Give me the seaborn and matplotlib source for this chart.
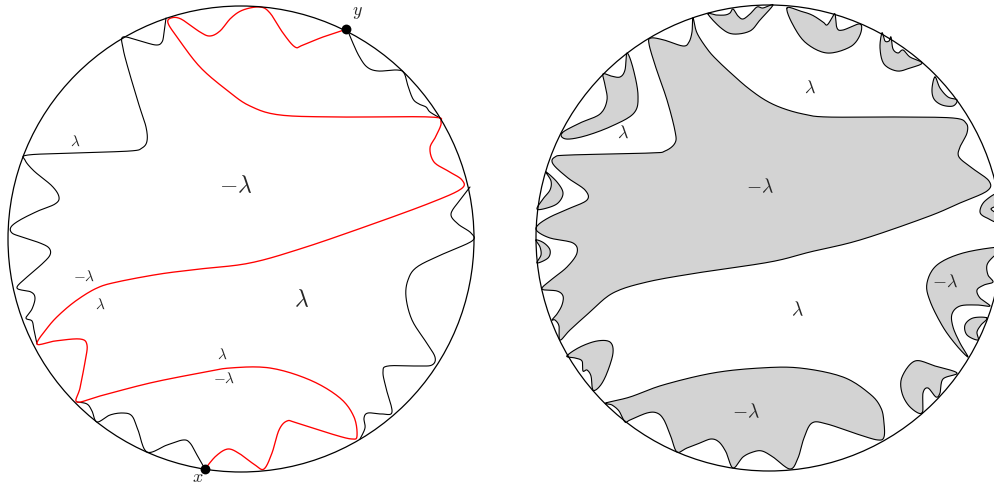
import numpy as np
import matplotlib
matplotlib.use("Agg")
import matplotlib.pyplot as plt
import seaborn as sns

# ------------------------------------------------------------------
# traced shapes (pixel coordinates of the reference, y grows downward)
# ------------------------------------------------------------------
left_center = (241, 239)
right_center = (769, 238)
disc_radius = 233

# left disc: red interface from y to x
left_red = [(347, 29), (323, 37), (303, 45), (295, 47), (283, 33), (270, 13), (260, 7), (243, 10),
            (231, 18), (220, 31), (210, 36), (200, 32), (181, 19), (171, 18), (168, 23), (177, 37),
            (200, 67), (228, 91), (250, 106), (280, 115), (340, 117), (430, 117), (441, 122),
            (436, 136), (430, 148), (434, 162), (448, 171), (462, 180), (461, 189), (430, 203),
            (370, 225), (303, 248), (250, 263), (200, 269), (160, 274), (117, 282), (97, 288),
            (77, 300), (60, 314), (48, 327), (37, 344), (55, 341), (80, 339), (87, 345), (85, 362),
            (80, 388), (77, 402), (100, 396), (150, 383), (200, 373), (230, 368), (270, 368),
            (310, 380), (340, 398), (354, 417), (357, 436), (352, 439), (335, 435), (297, 423),
            (287, 421), (279, 430), (272, 453), (264, 469), (255, 465), (240, 454), (228, 449),
            (216, 456), (205, 469)]

# left disc: black interfaces
left_black_1 = [(166, 18), (164, 33), (162, 42), (156, 45), (140, 41), (123, 37), (123, 48),
                (128, 68), (139, 105), (146, 127), (147, 141), (142, 148), (130, 151), (75, 153),
                (28, 155), (25, 160), (34, 171), (52, 186), (59, 197), (55, 204), (38, 211),
                (20, 220), (11, 227), (12, 233), (22, 237), (40, 243), (49, 248), (50, 255),
                (42, 264), (27, 277), (17, 288), (31, 292), (35, 298), (32, 309), (26, 318),
                (32, 321), (34, 330), (37, 344)]
left_black_2 = [(77, 402), (87, 404), (92, 411), (97, 422), (110, 415), (123, 413), (132, 416),
                (138, 430), (147, 452), (167, 445), (183, 440), (190, 443), (197, 455), (205, 469)]
left_black_3 = [(347, 29), (352, 41), (359, 56), (367, 67), (378, 71), (397, 70), (404, 73),
                (408, 86), (413, 99), (419, 104), (426, 107), (430, 112), (440, 118)]
left_black_4 = [(470, 187), (460, 200), (451, 214), (458, 224), (471, 233), (472, 241), (443, 254),
                (417, 267), (408, 280), (406, 297), (412, 320), (426, 342), (435, 357), (432, 365),
                (418, 366), (388, 366), (383, 372), (386, 388), (392, 412), (382, 414), (368, 413),
                (364, 418), (365, 428), (360, 439)]

# right disc: grey regions (closed outlines)
right_main = [(693, 18), (697, 33), (708, 50), (718, 61), (733, 75), (748, 88), (765, 100),
              (782, 108), (803, 114), (827, 117), (900, 117), (953, 118), (966, 123), (967, 133),
              (960, 147), (959, 157), (972, 168), (989, 181), (987, 191), (960, 203), (927, 217),
              (860, 240), (810, 252), (770, 262), (697, 273), (647, 282), (613, 293), (590, 312),
              (570, 330), (560, 340), (559, 326), (555, 320), (552, 320), (557, 314), (562, 305),
              (563, 296), (557, 291), (542, 289), (551, 280), (567, 267), (577, 253), (573, 243),
              (550, 238), (537, 231), (538, 225), (550, 217), (568, 209), (587, 200), (585, 190),
              (568, 178), (553, 164), (555, 157), (570, 155), (650, 153), (665, 151), (675, 143),
              (675, 131), (667, 100), (656, 68), (649, 44), (651, 38), (664, 40), (683, 46),
              (689, 42), (692, 32)]
right_bottom = [(606, 403), (630, 397), (663, 385), (713, 373), (760, 368), (800, 368), (843, 377),
                (870, 394), (881, 408), (884, 423), (884, 437), (878, 440), (860, 435), (827, 424),
                (812, 423), (804, 438), (798, 458), (790, 469), (773, 457), (762, 451), (753, 452),
                (743, 457), (733, 468), (726, 452), (719, 442), (711, 439), (700, 443), (687, 448),
                (677, 452), (671, 437), (664, 420), (657, 413), (647, 413), (630, 420), (625, 422),
                (619, 411), (612, 405)]
right_top_a = [(562, 133), (580, 123), (600, 114), (607, 100), (605, 85), (603, 74), (611, 76),
               (620, 77), (625, 70), (627, 53), (633, 68), (638, 95), (634, 113), (612, 126),
               (585, 136), (566, 139)]
right_top_b = [(708, 14), (716, 15), (725, 15), (730, 13), (733, 9), (738, 16), (743, 19), (750, 14),
               (757, 7), (763, 8), (773, 5), (760, 20), (750, 31), (733, 34), (721, 28)]
right_top_c = [(787, 8), (800, 11), (812, 15), (823, 22), (827, 25), (832, 18), (835, 14), (837, 28),
               (843, 30), (860, 24), (860, 35), (850, 47), (827, 53), (806, 43), (793, 25)]
right_top_d = [(882, 33), (885, 41), (889, 41), (891, 37), (893, 49), (898, 53), (903, 50), (910, 57),
               (922, 63), (910, 68), (897, 71), (884, 64), (880, 48)]
right_top_e = [(935, 77), (940, 88), (948, 97), (957, 100), (953, 106), (942, 105), (934, 99), (932, 89)]
right_side_a = [(1000, 194), (985, 201), (980, 212), (987, 218), (1000, 221)]
right_side_hole = [(1000, 206), (991, 209), (1000, 214)]
right_side_b = [(1000, 247), (963, 253), (937, 265), (927, 283), (930, 301), (943, 327), (957, 346),
                (968, 357), (960, 343), (953, 327), (952, 314), (960, 306), (977, 305), (990, 306),
                (980, 298), (977, 290), (984, 285), (993, 282), (988, 275), (987, 265), (993, 257),
                (1000, 252)]
right_side_c = [(987, 318), (973, 318), (965, 325), (967, 335), (978, 340), (977, 332), (981, 325)]
right_side_d = [(922, 413), (910, 407), (902, 393), (902, 377), (915, 361), (935, 366), (957, 373),
                (943, 379), (940, 393), (936, 397), (928, 388), (923, 393)]
right_left_a = [(546, 172), (557, 182), (563, 193), (558, 203), (547, 208), (537, 209), (543, 199),
                (550, 190), (551, 181)]
right_left_b = [(536, 240), (544, 243), (550, 250), (548, 258), (537, 263), (541, 255), (540, 247)]
right_left_c = [(567, 356), (580, 347), (597, 341), (610, 342), (613, 353), (607, 373), (600, 386),
                (593, 390), (591, 376), (587, 370), (583, 371), (582, 361), (575, 358)]
right_grey_regions = [right_main, right_bottom, right_top_a, right_top_b, right_top_c, right_top_d,
                      right_top_e, right_side_a, right_side_b, right_side_c, right_side_d,
                      right_left_a, right_left_b, right_left_c]

# labels: (x, y, text, size)
left_labels = [(75, 142, r'$\lambda$', 11), (236, 186, r'$-\lambda$', 17), (84, 277, r'$-\lambda$', 11),
               (100, 305, r'$\lambda$', 11), (302, 300, r'$\lambda$', 17), (222, 355, r'$\lambda$', 11),
               (224, 379, r'$-\lambda$', 11)]
right_labels = [(623, 133, r'$\lambda$', 13), (810, 88, r'$\lambda$', 13), (760, 187, r'$-\lambda$', 14),
                (797, 310, r'$\lambda$', 14), (945, 282, r'$-\lambda$', 13), (746, 412, r'$-\lambda$', 14)]
marked_points = [(346, 29, 'y'), (205, 469, 'x')]
marked_label_pos = [(357, 12), (198, 477)]


def smooth(pts, closed=False, n=12):
    """Catmull-Rom through the traced points, just for drawing."""
    p = np.asarray(pts, dtype=float)
    if closed:
        p = np.vstack([p[-1], p, p[0], p[1]])
    else:
        p = np.vstack([p[0], p, p[-1]])
    t = np.linspace(0, 1, n, endpoint=False)[:, None]
    out = []
    for i in range(1, len(p) - 2):
        p0, p1, p2, p3 = p[i - 1], p[i], p[i + 1], p[i + 2]
        out.append(0.5 * (2 * p1 + (-p0 + p2) * t + (2 * p0 - 5 * p1 + 4 * p2 - p3) * t ** 2
                          + (-p0 + 3 * p1 - 3 * p2 + p3) * t ** 3))
    out.append(p[-2][None])
    return np.vstack(out)


sns.set_theme(style="white")
plt.rcParams['mathtext.fontset'] = 'cm'
plt.rcParams['font.family'] = ['DejaVu Serif']

fig = plt.figure(figsize=(9.95, 4.86), dpi=100)
ax = fig.add_axes([0, 0, 1, 1])
ax.set_xlim(0, 995)
ax.set_ylim(486, 0)
ax.axis('off')

line_kw = dict(sort=False, estimator=None, legend=False, ax=ax)

# ---- right disc: grey regions clipped to the disc
for reg in right_grey_regions:
    xy = smooth(reg, closed=True)
    patch = ax.fill(xy[:, 0], xy[:, 1], color='#d3d3d3', zorder=1, lw=0)[0]
    patch.set_clip_path(plt.Circle(right_center, disc_radius, transform=ax.transData))
    xy = np.vstack([xy, xy[:1]])
    sns.lineplot(x=xy[:, 0], y=xy[:, 1], color='black', lw=0.8, zorder=2, **line_kw)
hole_xy = smooth(right_side_hole, closed=True)
ax.fill(hole_xy[:, 0], hole_xy[:, 1], color='white', zorder=1.5, lw=0.8, ec='black')

# ---- left disc: black and red interfaces
for curve in [left_black_1, left_black_2, left_black_3, left_black_4]:
    xy = smooth(curve)
    sns.lineplot(x=xy[:, 0], y=xy[:, 1], color='black', lw=0.8, zorder=2, **line_kw)
xy = smooth(left_red)
sns.lineplot(x=xy[:, 0], y=xy[:, 1], color='red', lw=0.95, zorder=3, **line_kw)

# ---- boundary circles
for c in [left_center, right_center]:
    ax.add_patch(plt.Circle(c, disc_radius, fill=False, ec='black', lw=0.9, zorder=4))

# ---- marked points
sns.scatterplot(x=[p[0] for p in marked_points], y=[p[1] for p in marked_points],
                color='black', s=50, zorder=5, ax=ax, legend=False, linewidth=0)
for (px, py, name), (lx, ly) in zip(marked_points, marked_label_pos):
    ax.text(lx, ly, rf'$\mathit{{{name}}}$', fontsize=13, ha='center', va='center', zorder=6)

# ---- region labels
for lx, ly, s, fs in left_labels + right_labels:
    ax.text(lx, ly, s, fontsize=fs, ha='center', va='center', zorder=6)

fig.savefig('out.png', dpi=100)
